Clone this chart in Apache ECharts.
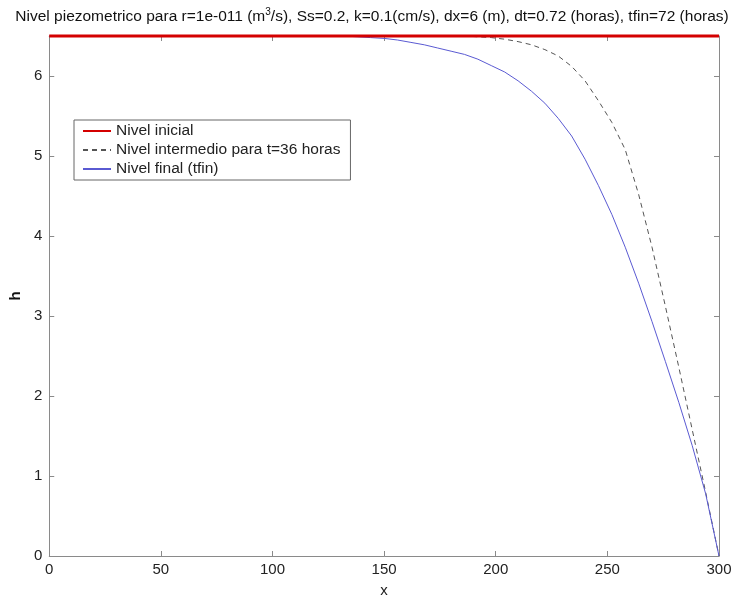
<!DOCTYPE html>
<html>
<head>
<meta charset="utf-8">
<script src="https://cdn.jsdelivr.net/npm/echarts@6/dist/echarts.min.js"></script>
<style>
  html, body { margin: 0; padding: 0; background: #fff; }
  #chart { width: 744px; height: 603px; }
</style>
</head>
<body>
<div id="chart"></div>
<script>
// nivel inicial
const xInicial = [0, 300];
const hInicial = [6.5, 6.5];

// nivel intermedio t=36 horas
const xIntermedio = [0, 186, 192, 198, 204, 210, 216, 222, 228, 234, 240, 246, 252, 258, 264, 270, 276, 282, 288, 294, 300];
const hIntermedio = [6.5, 6.5, 6.49, 6.48, 6.46, 6.43, 6.39, 6.33, 6.25, 6.12, 5.94, 5.69, 5.42, 5.08, 4.52, 3.86, 3.12, 2.36, 1.58, 0.80, 0];

// nivel final (tfin)
const xFinal = [0, 132, 138, 144, 150, 156, 162, 168, 174, 180, 186, 192, 198, 204, 210, 216, 222, 228, 234, 240, 246, 252, 258, 264, 270, 276, 282, 288, 294, 300];
const hFinal = [6.5, 6.5, 6.49, 6.48, 6.47, 6.45, 6.42, 6.39, 6.35, 6.31, 6.27, 6.21, 6.13, 6.05, 5.94, 5.81, 5.66, 5.47, 5.25, 4.96, 4.63, 4.27, 3.86, 3.41, 2.93, 2.43, 1.92, 1.38, 0.78, 0];

const xTicks = [0, 50, 100, 150, 200, 250, 300];
const yTicks = [0, 1, 2, 3, 4, 5, 6];

const titulo = 'Nivel piezometrico para r=1e-011 (m{sup|3}/s), Ss=0.2, k=0.1(cm/s), dx=6 (m), dt=0.72 (horas), tfin=72 (horas)';

const pares = (xs, ys) => xs.map((x, i) => [x, ys[i]]);

const chart = echarts.init(document.getElementById('chart'));
const fuente = 'Liberation Sans, Arial, sans-serif';
const ejeColor = '#8a8a8a';

// eje con ticks hacia dentro, estilo matlab
const ejeBase = (extra) => Object.assign({
  type: 'value',
  axisLine: { show: true, onZero: false, lineStyle: { color: ejeColor, width: 1 } },
  axisTick: { show: true, inside: true, length: 5, lineStyle: { color: ejeColor } },
  splitLine: { show: false },
  axisLabel: { color: '#222', fontFamily: fuente, fontSize: 15 }
}, extra);

chart.setOption({
  animation: false,
  backgroundColor: '#fff',
  title: {
    text: titulo,
    left: 'center',
    top: 2,
    textStyle: {
      color: '#111', fontFamily: fuente, fontSize: 15.5, fontWeight: 'normal',
      rich: { sup: { fontSize: 10, verticalAlign: 'bottom', padding: [0, 0, 9, 0], fontFamily: fuente, color: '#111' } }
    }
  },
  grid: { left: 47, right: 25, top: 36, bottom: 39 },
  legend: {
    orient: 'vertical',
    left: 74,
    top: 120,
    padding: [3, 10, 3, 8],
    itemGap: 3,
    itemWidth: 28,
    itemHeight: 15,
    borderColor: '#666',
    borderWidth: 1,
    backgroundColor: '#fff',
    itemStyle: { opacity: 0 },
    textStyle: { color: '#222', fontFamily: fuente, fontSize: 15.5 },
    data: ['Nivel inicial', 'Nivel intermedio para t=36 horas', 'Nivel final (tfin)']
  },
  xAxis: [
    ejeBase({
      min: 0, max: 300, interval: 50, position: 'bottom',
      name: 'x', nameLocation: 'middle', nameGap: 27,
      nameTextStyle: { color: '#222', fontFamily: fuente, fontSize: 15 },
      axisLabel: { color: '#222', fontFamily: fuente, fontSize: 15, margin: 6,
        formatter: v => (xTicks.indexOf(v) >= 0 ? String(v) : '') }
    }),
    ejeBase({ min: 0, max: 300, interval: 50, position: 'top', axisLabel: { show: false } })
  ],
  yAxis: [
    ejeBase({
      min: 0, max: 6.5, interval: 1, position: 'left',
      name: 'h', nameLocation: 'middle', nameGap: 22, nameRotate: 90,
      nameTextStyle: { color: '#111', fontFamily: fuente, fontSize: 15, fontWeight: 'bold' },
      axisLabel: { color: '#222', fontFamily: fuente, fontSize: 15, margin: 7, showMaxLabel: false,
        formatter: v => (yTicks.indexOf(v) >= 0 ? String(v) : '') }
    }),
    ejeBase({ min: 0, max: 6.5, interval: 1, position: 'right', axisLabel: { show: false } })
  ],
  series: [
    {
      name: 'Nivel inicial',
      type: 'line',
      data: pares(xInicial, hInicial),
      symbol: 'none',
      clip: false,
      z: 5,
      lineStyle: { color: '#d40000', width: 3 },
      itemStyle: { color: '#e00000' }
    },
    {
      name: 'Nivel intermedio para t=36 horas',
      type: 'line',
      data: pares(xIntermedio, hIntermedio),
      symbol: 'none',
      lineStyle: { color: '#555', width: 1, type: [5, 4] },
      itemStyle: { color: '#555' }
    },
    {
      name: 'Nivel final (tfin)',
      type: 'line',
      data: pares(xFinal, hFinal),
      symbol: 'none',
      lineStyle: { color: '#5a5ad2', width: 1 },
      itemStyle: { color: '#5a5ad2' }
    }
  ]
});
</script>
</body>
</html>
